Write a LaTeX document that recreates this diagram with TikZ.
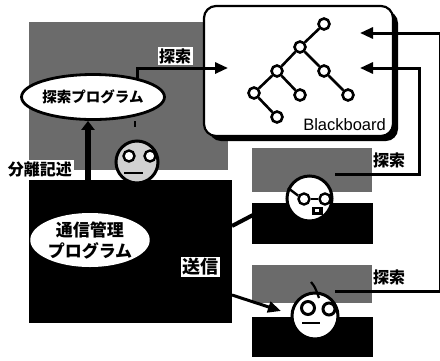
\documentclass[tikz,border=0pt]{standalone}
\usepackage{fontspec}
\setsansfont{Liberation Sans}
\newfontfamily\jp{Noto Sans CJK JP}
\usetikzlibrary{arrows.meta,shapes.geometric}

\tikzset{
  shade area/.style={fill=black!58},
  board/.style={draw,line width=2.2pt,fill=white,rounded corners=12pt,inner sep=0pt},
  leaf/.style={circle,draw,line width=2.6pt,fill=white,minimum size=11pt,inner sep=0pt},
  branch/.style={line width=2.6pt},
  tag/.style={fill=white,inner sep=1.5pt,font=\jp\bfseries\fontsize{16}{16}\selectfont},
  feed/.style={line width=3pt,-{Triangle[length=13pt,width=11pt]}},
  head/.style={circle,draw,line width=3pt,fill=white,inner sep=0pt},
  lens/.style={circle,draw,line width=2.4pt,fill=white,inner sep=0pt,minimum size=11pt},
  block/.style={fill=black,inner sep=0pt},
}

\begin{document}
\begin{tikzpicture}[x=1pt,y=-1pt]
\useasboundingbox (0,0) rectangle (440,360);

% shaded work areas
\fill[shade area] (29,22) rectangle (228,170);
\fill[shade area] (252,148) rectangle (372,192);
\fill[shade area] (252,265) rectangle (372,303);

% solid machine blocks
\node[block,minimum width=203pt,minimum height=143pt] (hub) at (130.5,251.5) {};
\node[block,minimum width=121pt,minimum height=41pt] (blkA) at (312.5,223.5) {};
\node[block,minimum width=121pt,minimum height=40pt] (blkB) at (312.5,337) {};

% blackboard with its offset shadow
\fill[rounded corners=12pt] (209,11) rectangle (398,141);
\node[board,minimum width=189pt,minimum height=130pt] (bb) at (298.5,71) {};
\node[font=\sffamily\fontsize{16.5}{16.5}\selectfont,anchor=base east,inner sep=0pt] (bbname) at (386,130) {Blackboard};

% tree held on the blackboard
\node[leaf] (t1) at (324,24) {};
\node[leaf] (t2) at (300,47) {};
\node[leaf] (t3) at (277,71) {};
\node[leaf] (t4) at (324,71) {};
\node[leaf] (t5) at (254,93) {};
\node[leaf] (t6) at (300,95) {};
\node[leaf] (t7) at (348,95) {};
\node[leaf] (t8) at (277,117) {};
\draw[branch] (t1)--(t2) (t2)--(t3) (t2)--(t4) (t3)--(t5) (t3)--(t6) (t4)--(t7) (t5)--(t8);

% programs
\node[ellipse,draw,line width=2.8pt,fill=white,minimum width=140pt,minimum height=45pt,inner sep=0pt,
      font=\jp\bfseries\fontsize{14.5}{14.5}\selectfont] (prog) at (93,97) {探索プログラム};
\node[ellipse,fill=white,minimum width=114pt,minimum height=54pt,inner sep=0pt,align=center,
      font=\jp\bfseries\fontsize{17}{21}\selectfont] (comm) at (90,240) {通信管理\\プログラム};

% agents
\node[head,fill=black!18,minimum size=42pt] (f1) at (137,162) {};
\node[lens] (f1l) at (129,156) {};
\node[lens] (f1r) at (150,156) {};
\draw[line width=1.8pt] (124,173) -- (143,173);
\draw[line width=1.6pt] (135,121) -- (135,127);

\node[head,minimum size=45pt] (f2) at (309.5,198.5) {};
\node[lens] (f2l) at (304,199) {};
\node[lens] (f2r) at (325,199) {};
\draw[line width=2.4pt] (f2l) -- (f2r);
\draw[line width=2.4pt] (f2l.150) -- (288,188);
\fill (312,207) rectangle (323,215);
\fill[white] (315,209) rectangle (319,212);

\node[head,minimum size=46pt] (f3) at (315,316) {};
\node[lens,line width=3pt,minimum size=13pt] (f3l) at (308,308) {};
\node[lens,line width=3pt,minimum size=12pt] (f3r) at (329,309) {};
\draw[line width=2.2pt] (302,323) -- (320,323);
\draw[line width=2.2pt] (311,282) .. controls (315,287) .. (319,298);

% connectors
\coordinate (upx) at (88,0);
\coordinate (bbin) at (228,68);
\coordinate (inA) at (360,33);
\coordinate (inB) at (360,68);
\coordinate (turnA) at (440,33);
\coordinate (turnB) at (419,68);
\coordinate (outA) at (335,291);
\coordinate (outB) at (335,174);
\coordinate (ha) at (232,226);
\coordinate (hb) at (253,215);
\coordinate (hc) at (232,295);
\coordinate (ft) at (281,311);

\draw[line width=5.5pt,-{Triangle[length=9pt,width=13pt]}] (hub.north -| upx) -- (prog.south -| upx);
\draw[feed] (prog.23) |- (bbin);
\draw[feed] (outB) -| (turnB) -- (inB);
\draw[feed] (outA) -| (turnA) -- (inA);
\draw[line width=4pt] (ha) -- (hb);
\draw[feed] (hc) -- (ft);

% labels
\node[tag] (lbl1) at (175,56) {探索};
\node[tag] (lbl2) at (40,169) {分離記述};
\node[tag] (lbl3) at (389,160) {探索};
\node[tag] (lbl4) at (389,277) {探索};
\node[tag,font=\jp\bfseries\fontsize{18}{18}\selectfont] (lbl5) at (200,267) {送信};
\end{tikzpicture}
\end{document}
